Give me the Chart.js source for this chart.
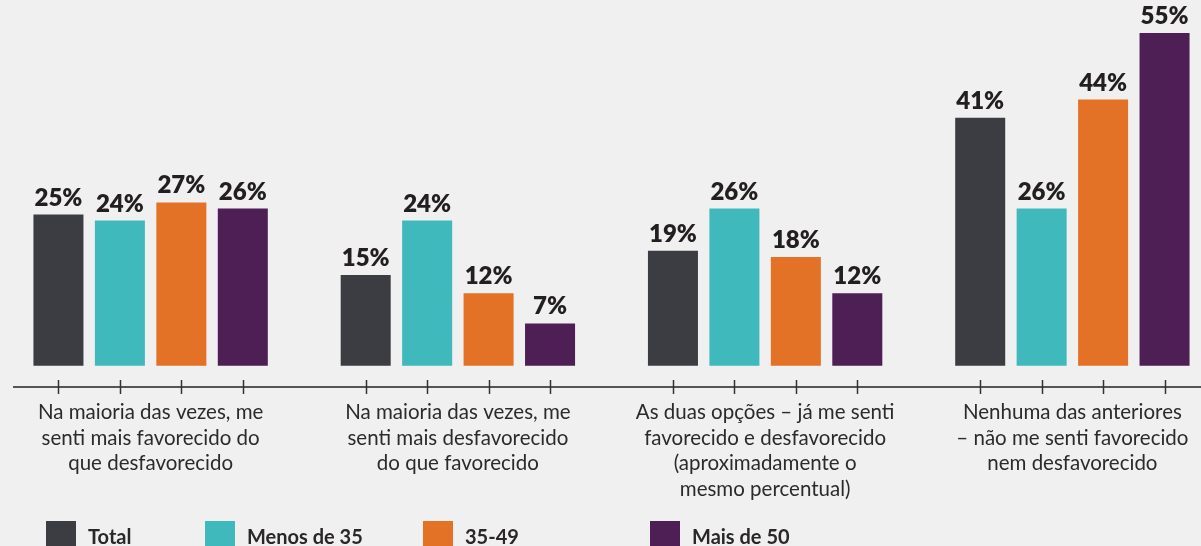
<!DOCTYPE html>
<html>
<head>
<meta charset="utf-8">
<script src="https://cdn.jsdelivr.net/npm/chart.js@4"></script>
<style>
  html, body { margin:0; padding:0; background:#f0f0f0; width:1201px; height:546px; overflow:hidden; position:relative; }
  #c { position:absolute; left:-3px; top:0; }
  #legend { position:absolute; left:0; top:0; width:1201px; height:546px; pointer-events:none; }
  .li { position:absolute; top:521px; height:30px; font-family: Lato, sans-serif; font-weight:700; font-size:20px; color:#2a2727; }
  .li .sw { position:absolute; left:0; top:0; width:30px; height:30px; }
  .li .tx { position:absolute; left:42px; top:3px; white-space:nowrap; }
</style>
</head>
<body>
<canvas id="c" width="1229" height="546"></canvas>
<div id="legend"></div>
<script>
const categories = [
  ["Na maioria das vezes, me", "senti mais favorecido do", "que desfavorecido"],
  ["Na maioria das vezes, me", "senti mais desfavorecido", "do que favorecido"],
  ["As duas opções – já me senti", "favorecido e desfavorecido", "(aproximadamente o", "mesmo percentual)"],
  ["Nenhuma das anteriores", "– não me senti favorecido", "nem desfavorecido"]
];
const seriesNames = ["Total", "Menos de 35", "35-49", "Mais de 50"];
const totalValues = [25, 15, 19, 41];
const menos35Values = [24, 24, 26, 26];
const v3549Values = [27, 12, 18, 44];
const mais50Values = [26, 7, 12, 55];
const seriesColors = ["#3c3d42", "#40b9bd", "#e37226", "#4d1f54"];

const seriesValues = [totalValues, menos35Values, v3549Values, mais50Values];

const FONT = "Lato, 'Noto Sans', sans-serif";

const barDecor = {
  id: 'barDecor',
  afterDatasetsDraw(chart) {
    const ctx = chart.ctx;
    const area = chart.chartArea;
    const axisY = area.bottom;
    ctx.save();
    ctx.font = "800 24px " + FONT;
    ctx.fillStyle = "#231f20";
    ctx.textAlign = "center";
    ctx.textBaseline = "alphabetic";
    chart.data.datasets.forEach((ds, di) => {
      const meta = chart.getDatasetMeta(di);
      meta.data.forEach((bar, i) => {
        ctx.fillText(ds.data[i] + "%", bar.x, bar.y - 9);
      });
    });
    ctx.strokeStyle = "#222";
    ctx.lineWidth = 1.5;
    ctx.beginPath();
    ctx.moveTo(area.left + 16, axisY);
    ctx.lineTo(chart.width, axisY);
    ctx.stroke();
    ctx.strokeStyle = "#333";
    ctx.lineWidth = 1.5;
    chart.data.datasets.forEach((ds, di) => {
      chart.getDatasetMeta(di).data.forEach(bar => {
        const x = Math.round(bar.x) + 0.5;
        ctx.beginPath();
        ctx.moveTo(x, axisY - 7);
        ctx.lineTo(x, axisY + 7);
        ctx.stroke();
      });
    });
    ctx.restore();
  }
};

new Chart(document.getElementById('c'), {
  type: 'bar',
  data: {
    labels: categories,
    datasets: seriesNames.map((n, i) => ({
      label: n,
      data: seriesValues[i],
      backgroundColor: seriesColors[i],
      borderWidth: 0,
      categoryPercentage: 0.8,
      barPercentage: 0.814
    }))
  },
  options: {
    responsive: false,
    animation: false,
    devicePixelRatio: 1,
    layout: { padding: { top: 4, left: 0, right: 0, bottom: 0 } },
    plugins: { legend: { display: false }, tooltip: { enabled: false } },
    scales: {
      y: { display: false, min: -3.5, max: 59.8 },
      x: {
        grid: { display: false, drawTicks: false },
        border: { display: false },
        ticks: {
          padding: 13,
          color: "#2b2b2b",
          font: { family: FONT, size: 20.5, lineHeight: 1.245 },
          maxRotation: 0, autoSkip: false
        },
        afterFit(scale) { scale.height = 159; }
      }
    }
  },
  plugins: [barDecor]
});

const legendLeft = [46, 205, 423, 650];
const leg = document.getElementById('legend');
seriesNames.forEach((n, i) => {
  const d = document.createElement('div');
  d.className = 'li';
  d.style.left = legendLeft[i] + 'px';
  d.innerHTML = '<div class="sw" style="background:' + seriesColors[i] + '"></div><div class="tx"></div>';
  d.querySelector('.tx').textContent = n;
  leg.appendChild(d);
});
</script>
</body>
</html>
